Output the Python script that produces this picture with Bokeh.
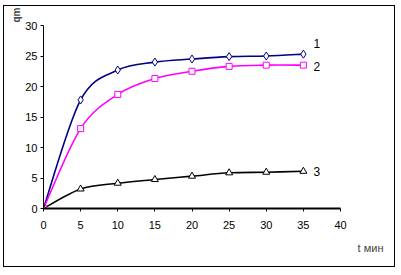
from bokeh.plotting import figure
from bokeh.models import Range1d, Label, FixedTicker, Title
from bokeh.embed import file_html
from bokeh.resources import INLINE

# data
t = [0, 5, 10, 15, 20, 25, 30, 35]
q1 = [0, 17.8, 22.7, 24.0, 24.5, 24.9, 25.0, 25.3]
q2 = [0, 13.1, 18.7, 21.3, 22.5, 23.3, 23.5, 23.5]
q3 = [0, 3.2, 4.15, 4.75, 5.3, 5.85, 5.95, 6.1]
series_names = ["1", "2", "3"]
x_ticks = [0, 5, 10, 15, 20, 25, 30, 35, 40]
y_ticks = [0, 5, 10, 15, 20, 25, 30]
x_title = "t мин"
y_title = "qm"

p = figure(width=392, height=262, output_backend="svg", toolbar_location=None,
           x_range=Range1d(0, 40), y_range=Range1d(0, 30),
           min_border_left=39, min_border_right=56, min_border_top=19, min_border_bottom=60,
           styles={"border": "1px solid black", "margin-left": "3px", "margin-top": "5px"})
p.outline_line_color = None
p.grid.visible = False
p.background_fill_color = "white"
p.border_fill_color = "white"

for ax in (p.xaxis[0], p.yaxis[0]):
    ax.major_label_text_font = "Liberation Sans"
    ax.major_label_text_font_size = "11px"
    ax.major_label_text_color = "black"
    ax.axis_line_color = "black"
    ax.major_tick_line_color = "black"
    ax.major_tick_in = 0
    ax.major_tick_out = 3
    ax.minor_tick_line_color = None
p.xaxis[0].ticker = FixedTicker(ticks=x_ticks)
p.yaxis[0].ticker = FixedTicker(ticks=y_ticks)
p.xaxis[0].axis_line_width = 2
p.xaxis[0].major_label_standoff = 9
p.yaxis[0].major_label_standoff = 3


def smooth(xs, ys, color, width):
    n = len(xs)
    x0s, y0s, x1s, y1s, cx0, cy0, cx1, cy1 = [], [], [], [], [], [], [], []
    for i in range(n - 1):
        xm, ym = (xs[i - 1], ys[i - 1]) if i > 0 else (xs[i], ys[i])
        xp, yp = (xs[i + 2], ys[i + 2]) if i + 2 < n else (xs[i + 1], ys[i + 1])
        x0s.append(xs[i]); y0s.append(ys[i])
        x1s.append(xs[i + 1]); y1s.append(ys[i + 1])
        cx0.append(xs[i] + (xs[i + 1] - xm) / 6); cy0.append(ys[i] + (ys[i + 1] - ym) / 6)
        cx1.append(xs[i + 1] - (xp - xs[i]) / 6); cy1.append(ys[i + 1] - (yp - ys[i]) / 6)
    p.bezier(x0=x0s, y0=y0s, x1=x1s, y1=y1s, cx0=cx0, cy0=cy0, cx1=cx1, cy1=cy1,
             line_color=color, line_width=width)


smooth(t, q1, "#000080", 1.6)
smooth(t, q2, "#FF00FF", 1.6)
smooth(t, q3, "black", 1.6)

p.scatter(t, q1, marker="diamond", size=8, line_color="#000080", fill_color="white", line_width=1)
p.scatter(t, q2, marker="square", size=6, line_color="#FF00FF", fill_color="white", line_width=1)
p.scatter(t, q3, marker="triangle", size=7, line_color="black", fill_color="white", line_width=1)

ends = [q1[-1], q2[-1], q3[-1]]
offs = [11, -1, 0]
for name, yv, off in zip(series_names, ends, offs):
    p.add_layout(Label(x=t[-1], y=yv, x_offset=10, y_offset=off, text=name,
                       text_font="Liberation Sans", text_font_size="12px",
                       text_baseline="middle", text_align="left", text_color="black"))

p.add_layout(Title(text=x_title, align="right", offset=-43, standoff=17,
                   text_font="Liberation Sans", text_font_size="11px",
                   text_font_style="normal"), "below")
p.add_layout(Title(text=y_title, align="right", offset=-18, standoff=1,
                   text_font="Liberation Sans", text_font_size="10px",
                   text_font_style="bold"), "left")

open("out.html", "w").write(file_html(p, INLINE))
